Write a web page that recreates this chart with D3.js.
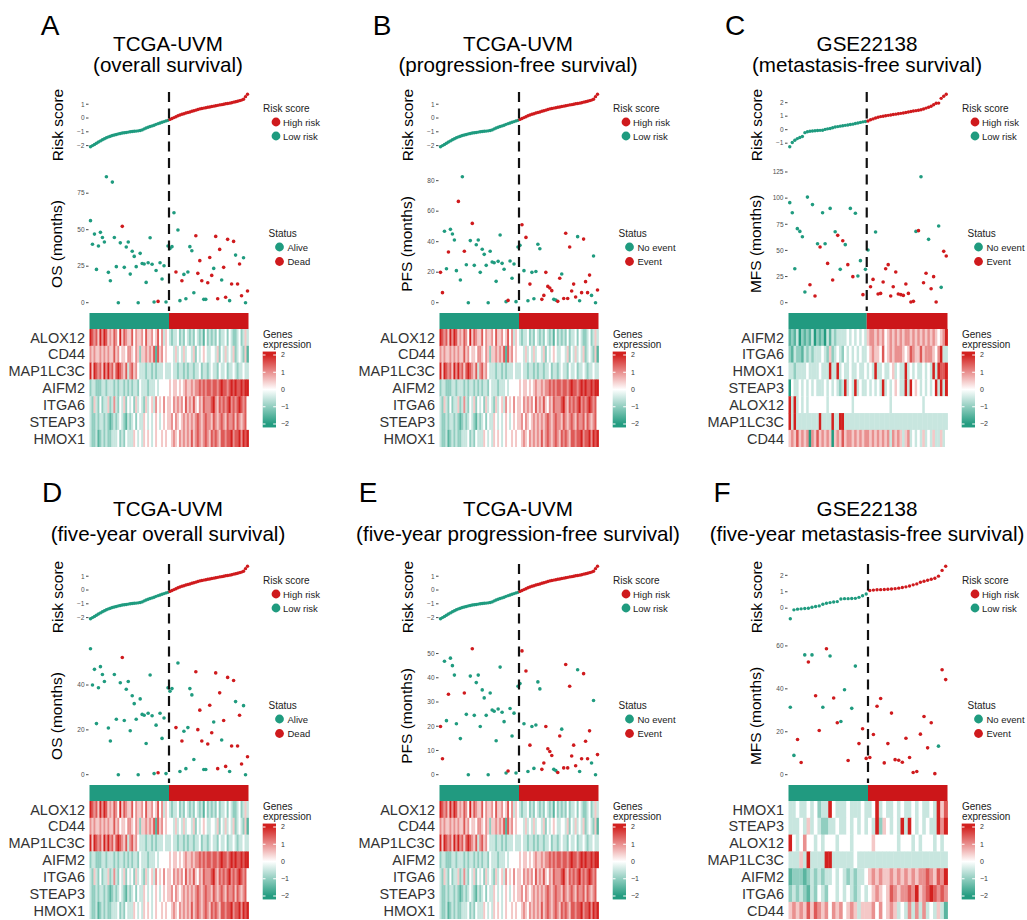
<!DOCTYPE html>
<html>
<head>
<meta charset="utf-8">
<script src="https://cdn.jsdelivr.net/npm/d3@7"></script>
<style>
body { margin: 0; background: #fff }
text { font-family: "Liberation Sans", Arial, sans-serif }
</style>
</head>
<body>
<svg id="svg" width="1027" height="920"></svg>
<script>
// ---- data ----

// TCGA-UVM risk score, sorted (80 patients, first 40 = low risk)
var riskTCGA = [-2.08,-2.00,-1.92,-1.83,-1.74,-1.66,-1.58,-1.50,-1.43,-1.37,
	-1.32,-1.27,-1.23,-1.19,-1.15,-1.12,-1.09,-1.07,-1.05,-1.02,
	-1.00,-0.98,-0.96,-0.95,-0.93,-0.91,-0.86,-0.79,-0.72,-0.67,
	-0.62,-0.57,-0.52,-0.46,-0.41,-0.36,-0.31,-0.26,-0.21,-0.17,
	-0.10,-0.04,0.03,0.09,0.16,0.22,0.27,0.31,0.36,0.40,
	0.44,0.49,0.53,0.57,0.62,0.66,0.69,0.72,0.75,0.78,
	0.80,0.83,0.86,0.89,0.92,0.95,0.97,1.00,1.03,1.05,
	1.08,1.11,1.15,1.18,1.22,1.26,1.30,1.36,1.55,1.72]

// GSE22138 risk score (63 patients, first 31 = low risk)
var riskGSE = [-1.26,-0.95,-0.78,-0.66,-0.58,-0.50,-0.22,-0.15,-0.12,-0.10,
	-0.08,-0.06,-0.05,-0.04,0.02,0.06,0.09,0.14,0.20,0.23,
	0.26,0.29,0.32,0.35,0.38,0.41,0.46,0.50,0.54,0.58,
	0.61,0.64,0.73,0.80,0.86,0.92,0.97,1.00,1.03,1.06,
	1.09,1.12,1.15,1.18,1.21,1.24,1.27,1.31,1.35,1.38,
	1.41,1.44,1.48,1.53,1.60,1.66,1.73,1.85,1.96,1.97,
	2.32,2.48,2.62]

// GSE22138 five-year subset (44 patients, first 22 = low risk)
var riskGSE5 = [-0.64,-0.10,-0.06,-0.04,-0.02,0.00,0.06,0.10,0.14,0.24,
	0.30,0.34,0.38,0.40,0.56,0.58,0.58,0.59,0.60,0.66,
	0.76,0.86,1.08,1.10,1.12,1.13,1.14,1.15,1.17,1.19,
	1.22,1.26,1.30,1.35,1.42,1.48,1.58,1.64,1.70,1.76,
	1.82,1.95,2.30,2.55]

var lowTCGA = 40, lowGSE = 31, lowGSE5 = 22

// survival times (months) and status (1 = event / dead)
var osTime = [56.2,40,47,22.8,38.8,48.2,44.7,41.6,86.3,20.8, 15,82.6,44.7,24.7,0,41,52.3,24.2,38.1,41.6,
	19.6,35.2,31.7,24.7,0,33.8,26.9,26.5,13.9,27.4, 44.5,26.3,0.5,22.1,0.9,27.4,16.2,25.3,0.5,38.8,
	37.2,38.4,61.6,21,49.8,1.4,15,19.4,2.7,21, 38.4,35.6,6.8,45.9,20.1,28.8,15,2.3,2.3,13.7,
	31,18.7,23.5,45.4,2.7,36.5,15.5,24.2,3.7,43.4, 1.4,12.8,42,32.6,12.8,26.5,4.8,30.8,0,8]
var osDead = [0,0,0,0,0,0,0,0,0,0, 0,0,0,0,0,0,1,0,0,0, 0,0,0,0,0,0,0,0,0,0, 0,0,0,0,1,0,0,0,0,0,
	0,0,0,1,0,0,1,0,0,0, 0,0,0,1,1,1,1,0,0,1, 1,1,0,1,1,1,0,1,1,1, 0,1,1,0,1,1,1,0,0,1]
var os5Time = [56.2,40,47,22.8,38.8,48.2,44.7,41.6,null,20.8, 15,null,44.7,24.7,0,41,52.3,24.2,38.1,41.6,
	19.6,35.2,31.7,24.7,0,33.8,26.9,26.5,13.9,27.4, 44.5,26.3,0.5,22.1,0.9,27.4,16.2,25.3,0.5,38.8,
	37.2,38.4,null,21,49.8,1.4,15,19.4,2.7,21, 38.4,35.6,6.8,45.9,20.1,28.8,15,2.3,2.3,13.7,
	31,18.7,23.5,45.4,2.7,36.5,15.5,24.2,3.7,43.4, 1.4,12.8,42,32.6,12.8,26.5,4.8,30.8,0,8]

var pfsTime = [19.9,6.6,46.8,22.3,33.2,48.1,45,41.1,21,66.4, 14.9,82.6,33.7,24.9,0,40.7,52,24.5,38,41.1,
	19.9,35,31.7,24.5,0,33.7,26.7,26.2,14,27.1, 44.4,25.8,21.9,0.7,1.5,27.3,16,25.4,0.7,36.5,
	37.6,51.1,21,42.8,1.3,12.2,19.9,2.6,20.5,38.3, 35.4,2.2,4.8,19.9,10.7,9.6,7.9,2.2,1.7,0.9,
	16,18.8,2.8,45.5,2.8,36.5,7.7,12.2,3.7,43.3, 1.3,6.6,41.7,13.8,6.6,18.1,4.8,30.6,0,8.3]
var pfsEvent = [1,1,0,0,1,0,0,0,0,1, 0,0,1,0,0,0,1,0,0,0, 0,0,0,0,0,0,0,0,0,0, 0,0,0,0,1,0,0,0,0,0,
	0,1,0,1,0,1,0,0,0,0, 0,1,1,1,1,1,1,0,0,1, 1,0,1,1,1,1,1,1,1,0, 0,1,1,1,1,1,0,0,0,1]
var pfs5Time = [19.9,6.6,46.8,22.3,33.2,48.1,45,41.1,21,null, 14.9,null,33.7,24.9,0,40.7,52,24.5,38,41.1,
	19.9,35,31.7,24.5,0,33.7,26.7,26.2,14,27.1, 44.4,25.8,21.9,0.7,1.5,27.3,16,25.4,0.7,36.5,
	37.6,51.1,21,42.8,1.3,12.2,19.9,2.6,20.5,38.3, 35.4,2.2,4.8,19.9,10.7,9.6,7.9,2.2,1.7,0.9,
	16,18.8,2.8,45.5,2.8,36.5,7.7,12.2,3.7,43.3, 1.3,6.6,41.7,13.8,6.6,18.1,4.8,30.6,0,8.3]

var mfsTime = [95.7,86,32.5,70.8,68.2,63.1,10.2,101,17.2,93.8, 6.4,56.4,53.3,86,56.4,37.6,90.2,21.7,67.9,64.4,
	31.9,59.3,55.5,36.4,90.2,24.9,85.5,25.5,40.2,7.7, 31.9,
	50.4,15.3,22.3,67.6,8.3,8.9,19.8,32.5,36.4,6.4, 15.3,29.3,8.3,7.7,7,17.9,8.9,0.6,1.3,68.2,
	68.9,120.5,19.1,28.1,60.6,13.4,24.9,0.6,73.3,14.7, 49.1,44.6]
var mfsEvent = [0,0,0,0,0,0,0,0,1,0, 1,0,1,0,0,1,0,1,0,1, 0,1,0,1,0,1,0,0,0,1, 0,
	0,1,1,0,1,1,1,1,1,1, 1,1,1,1,1,1,1,1,1,0, 1,0,1,1,0,1,1,1,0,0, 1,1]

var mfs5Time = [31.4,9,16.4,5.7,55.8,52.5,55.8,36.8,20.6,31.4, 58.7,55.3,35.7,24.2,24.8,39.6,6.6,30.9,50.6,14.5, 21.4,7.6,
	8,18.7,31.9,35.5,5.5,14.5,28.7,7,6.7,5.8, 17,8,1,1.5,18.9,27.1,12.5,24.2,0.5,13.3, 48.9,44.3]
var mfs5Event = [0,0,1,1,0,1,0,1,1,0, 1,0,1,1,0,0,1,0,0,1, 1,1,
	1,1,1,1,1,1,1,1,1,1, 1,1,1,1,1,1,1,1,1,0, 1,1]

// heatmap rows: one digit per patient, 0..8 -> z -2..2 (spaces ignored)
var genesTCGA = ["ALOX12", "CD44", "MAP1LC3C", "AIFM2", "ITGA6", "STEAP3", "HMOX1"]
var exprTCGA = [
	"8767586875 6576485765 5746556475 5645746354 3233423243 2324323142 3232423342 4322342353",
	"6565565656 5575645546 6546525565 6571756454 4435343534 4352434543 3443524353 4352343251",
	"8587675868 6757876573 6756433323 3232333433 3433233232 3323342332 3433243342 3343233433",
	"2332223323 3323233232 3233243332 3334344444 5455454565 5656676767 7677678776 7878778788",
	"3253242335 2363243524 3425343253 4536454645 5465656475 6575465766 6786576767 8676787674",
	"3223233232 1232343213 2342433543 4345434545 5646545656 5656765676 6576567657 6675765674",
	"3223123232 2333423243 3354343545 4345445454 4565465656 5756765676 5767657767 7867786878"]

var genesGSE = ["AIFM2", "ITGA6", "HMOX1", "STEAP3", "ALOX12", "MAP1LC3C", "CD44"]
var exprGSE = [
	"1213021213 0212031323 3334343434 3 5665656456 5656566565 6565656545 68",
	"2132213232 3334325234 3243434343 3 4565547456 5666545765 5756665468 33",
	"3323333433 3343338338 3433433433 4 3438334334 5343383434 3343438387 78",
	"0433434343 4333434343 2383438343 3 4343438343 4543383845 4343434838 38",
	"8383434344 4444434444 4444434444 4 4444444443 4444444444 4434444444 44",
	"8383333333 3383333833 8833333333 3 3333333333 3333333333 3333333333 33",
	"5657565606 5756565056 5756656565 6 6565656563 6565356343 4353435335 34"]

var genesGSE5 = ["HMOX1", "STEAP3", "ALOX12", "MAP1LC3C", "AIFM2", "ITGA6", "CD44"]
var exprGSE5 = [
	"3343343423 3843334333 43 3483433434 3343433438 57",
	"3334353432 2334334343 43 4382543438 3843434338 68",
	"8434644343 4443444344 44 4544444434 4434344434 34",
	"3335383333 8833333343 33 3333333333 3333333333 33",
	"1222123232 3343432323 34 5656556565 6565667657 68",
	"2323213243 2443434323 43 4565457656 6768567876 76",
	"5656575765 6465645653 55 5646456534 3636363435 31"]

// axis ticks
var riskTicksTCGA = [-2, -1, 0, 1]
var riskTicksGSE = [-1, 0, 1, 2]
var riskTicksGSE5 = [0, 1, 2]
var osTicks = [0, 25, 50, 75]
var pfsTicks = [0, 20, 40, 60, 80]
var mfsTicks = [0, 25, 50, 75, 100, 125]
var os5Ticks = [0, 20, 40]
var pfs5Ticks = [0, 10, 20, 30, 40, 50]
var mfs5Ticks = [0, 20, 40, 60]
var legendTicks = [2, 1, 0, -1, -2]

// ---- drawing ----
var svg = d3.select("#svg")
var teal = "#1f9b7f", red = "#cf1a1d"
var heatColor = d3.scaleLinear().domain([-2, 0, 2])
	.range(["#239c80", "#ffffff", "#d3211f"]).clamp(true)

function decode(s) {
	return s.replace(/[^0-8]/g, "").split("").map(function (c) { return (+c - 4) / 2 })
}

function fmt(v) { return v < 0 ? "\u2212" + (-v) : "" + v }

var panels = [
	{ letter: "A", lx: 50, col: 0, row: 0, t1: "TCGA-UVM", t2: "(overall survival)",
	  risk: riskTCGA, nLow: lowTCGA, time: osTime, ev: osDead, yLab: "OS (months)",
	  evNames: ["Alive", "Dead"], rTicks: riskTicksTCGA, tTicks: osTicks, genes: genesTCGA, expr: exprTCGA },
	{ letter: "B", lx: 382, col: 1, row: 0, t1: "TCGA-UVM", t2: "(progression-free survival)",
	  risk: riskTCGA, nLow: lowTCGA, time: pfsTime, ev: pfsEvent, yLab: "PFS (months)",
	  evNames: ["No event", "Event"], rTicks: riskTicksTCGA, tTicks: pfsTicks, genes: genesTCGA, expr: exprTCGA },
	{ letter: "C", lx: 735, col: 2, row: 0, t1: "GSE22138", t2: "(metastasis-free survival)",
	  risk: riskGSE, nLow: lowGSE, time: mfsTime, ev: mfsEvent, yLab: "MFS (months)",
	  evNames: ["No event", "Event"], rTicks: riskTicksGSE, tTicks: mfsTicks, genes: genesGSE, expr: exprGSE },
	{ letter: "D", lx: 52, col: 0, row: 1, t1: "TCGA-UVM", t2: "(five-year overall survival)",
	  risk: riskTCGA, nLow: lowTCGA, time: os5Time, ev: osDead, yLab: "OS (months)",
	  evNames: ["Alive", "Dead"], rTicks: riskTicksTCGA, tTicks: os5Ticks, genes: genesTCGA, expr: exprTCGA },
	{ letter: "E", lx: 368, col: 1, row: 1, t1: "TCGA-UVM", t2: "(five-year progression-free survival)",
	  risk: riskTCGA, nLow: lowTCGA, time: pfs5Time, ev: pfsEvent, yLab: "PFS (months)",
	  evNames: ["No event", "Event"], rTicks: riskTicksTCGA, tTicks: pfs5Ticks, genes: genesTCGA, expr: exprTCGA },
	{ letter: "F", lx: 722, col: 2, row: 1, t1: "GSE22138", t2: "(five-year metastasis-free survival)",
	  risk: riskGSE5, nLow: lowGSE5, time: mfs5Time, ev: mfs5Event, yLab: "MFS (months)",
	  evNames: ["No event", "Event"], rTicks: riskTicksGSE5, tTicks: mfs5Ticks, genes: genesGSE5, expr: exprGSE5 }
]

var colOff = [0, 350, 699]
var rowOff = [0, 472]
var letterY = [35, 502]
var titleY = [[50.5, 71.5], [516, 541]]

// gradient for the colour bar
var grad = svg.append("defs").append("linearGradient")
	.attr("id", "heatGrad").attr("x1", 0).attr("x2", 0).attr("y1", 0).attr("y2", 1)
d3.range(-2.2, 2.21, 0.2).reverse().forEach(function (v, i, a) {
	grad.append("stop").attr("offset", i / (a.length - 1)).attr("stop-color", heatColor(v))
})

panels.forEach(function (p) {
	var ox = colOff[p.col], oy = rowOff[p.row]

	svg.append("text").attr("x", p.lx).attr("y", letterY[p.row])
		.attr("text-anchor", "middle").style("font-size", "28px").text(p.letter)
	svg.append("text").attr("x", ox + 168).attr("y", titleY[p.row][0])
		.attr("text-anchor", "middle").style("font-size", "20.6px").text(p.t1)
	svg.append("text").attr("x", ox + 168).attr("y", titleY[p.row][1])
		.attr("text-anchor", "middle").style("font-size", "20.6px").text(p.t2)

	var g = svg.append("g").attr("transform", "translate(" + ox + "," + oy + ")")
	var n = p.risk.length
	var x = d3.scaleBand().domain(d3.range(n)).range([89.5, 248.5])
	var bw = x.bandwidth()
	var cx = function (i) { return x(i) + bw / 2 }
	var yR = d3.scaleLinear().domain(d3.extent(p.risk)).range([146.7, 94.3])
	var yT = d3.scaleLinear().domain([0, d3.max(p.time)]).range([302.7, 176.7])
	var splitX = x(p.nLow)

	// y axes (tiny ggplot-like ticks)
	function axisTicks(ticks, scale) {
		var t = g.append("g").selectAll("g").data(ticks).enter().append("g")
			.attr("transform", function (d) { return "translate(0," + scale(d) + ")" })
		t.append("text").attr("x", 84.5).attr("dy", "0.35em").attr("text-anchor", "end")
			.style("font-size", "6.5px").style("fill", "#4d4d4d").text(fmt)
		t.append("line").attr("x1", 86).attr("x2", 88.5).attr("stroke", "#333").attr("stroke-width", 0.9)
	}
	axisTicks(p.rTicks, yR)
	axisTicks(p.tTicks, yT)

	g.append("text").attr("transform", "translate(62.5,125) rotate(-90)")
		.attr("text-anchor", "middle").style("font-size", "15.5px").text("Risk score")
	g.append("text").attr("transform", "translate(62,244) rotate(-90)")
		.attr("text-anchor", "middle").style("font-size", "15.5px").text(p.yLab)

	// risk score points
	g.append("g").selectAll("circle").data(p.risk).enter().append("circle")
		.attr("cx", function (d, i) { return cx(i) })
		.attr("cy", function (d) { return yR(d) })
		.attr("r", 1.7)
		.attr("fill", function (d, i) { return i < p.nLow ? teal : red })

	// survival time points (skip patients with no value)
	var pts = p.time.map(function (t, i) { return { t: t, e: p.ev[i], i: i } })
		.filter(function (d) { return d.t != null })
	g.append("g").selectAll("circle").data(pts).enter().append("circle")
		.attr("cx", function (d) { return cx(d.i) })
		.attr("cy", function (d) { return yT(d.t) })
		.attr("r", 1.8)
		.attr("fill", function (d) { return d.e ? red : teal })

	// dashed cut-off line
	g.append("line").attr("x1", splitX).attr("x2", splitX).attr("y1", 92).attr("y2", 311)
		.attr("stroke", "#111").attr("stroke-width", 2.2).attr("stroke-dasharray", "10,6.5")

	// group annotation bar
	g.append("rect").attr("x", x(0)).attr("y", 313).attr("width", splitX - x(0)).attr("height", 16).attr("fill", "#219a80")
	g.append("rect").attr("x", splitX).attr("y", 313).attr("width", x(n - 1) + bw - splitX).attr("height", 16).attr("fill", "#cc1619")

	// heatmap
	var yH = d3.scaleBand().domain(p.genes).range([329, 446.7])
	p.genes.forEach(function (gene, r) {
		var vals = decode(p.expr[r])
		g.append("g").selectAll("rect").data(vals).enter().append("rect")
			.attr("x", function (d, i) { return x(i) })
			.attr("y", yH(gene))
			.attr("width", bw + 0.4)
			.attr("height", yH.bandwidth() + 0.3)
			.attr("fill", function (d) { return heatColor(d) })
		g.append("text").attr("x", 85).attr("y", yH(gene) + yH.bandwidth() / 2).attr("dy", "0.36em")
			.attr("text-anchor", "end").style("font-size", "14.5px").style("fill", "#333").text(gene)
	})

	// legends
	g.append("text").attr("x", 263).attr("y", 111.5).style("font-size", "10px").style("fill", "#222").text("Risk score")
	;[["High risk", red, 122], ["Low risk", teal, 136]].forEach(function (it) {
		g.append("circle").attr("cx", 276).attr("cy", it[2]).attr("r", 4.4).attr("fill", it[1])
		g.append("text").attr("x", 283).attr("y", it[2] + 3.5).style("font-size", "9.5px").style("fill", "#222").text(it[0])
	})
	g.append("text").attr("x", 268.5).attr("y", 236.5).style("font-size", "10px").style("fill", "#222").text("Status")
	;[[p.evNames[0], teal, 247], [p.evNames[1], red, 261.5]].forEach(function (it) {
		g.append("circle").attr("cx", 279.5).attr("cy", it[2]).attr("r", 4.4).attr("fill", it[1])
		g.append("text").attr("x", 287.5).attr("y", it[2] + 3.5).style("font-size", "9.5px").style("fill", "#222").text(it[0])
	})
	g.append("text").attr("x", 263).attr("y", 337.5).style("font-size", "10px").style("fill", "#222").text("Genes")
	g.append("text").attr("x", 263).attr("y", 348).style("font-size", "10px").style("fill", "#222").text("expression")
	var yL = d3.scaleLinear().domain([-2, 2]).range([424, 355])
	g.append("rect").attr("x", 262.7).attr("y", yL(2.2)).attr("width", 13.3).attr("height", yL(-2.2) - yL(2.2))
		.attr("fill", "url(#heatGrad)")
	legendTicks.forEach(function (v) {
		g.append("line").attr("x1", 262.7).attr("x2", 265.5).attr("y1", yL(v)).attr("y2", yL(v)).attr("stroke", "#fff")
		g.append("line").attr("x1", 273.2).attr("x2", 276).attr("y1", yL(v)).attr("y2", yL(v)).attr("stroke", "#fff")
		g.append("text").attr("x", 281).attr("y", yL(v)).attr("dy", "0.35em")
			.style("font-size", "7px").style("fill", "#333").text(fmt(v))
	})
})
</script>
</body>
</html>
